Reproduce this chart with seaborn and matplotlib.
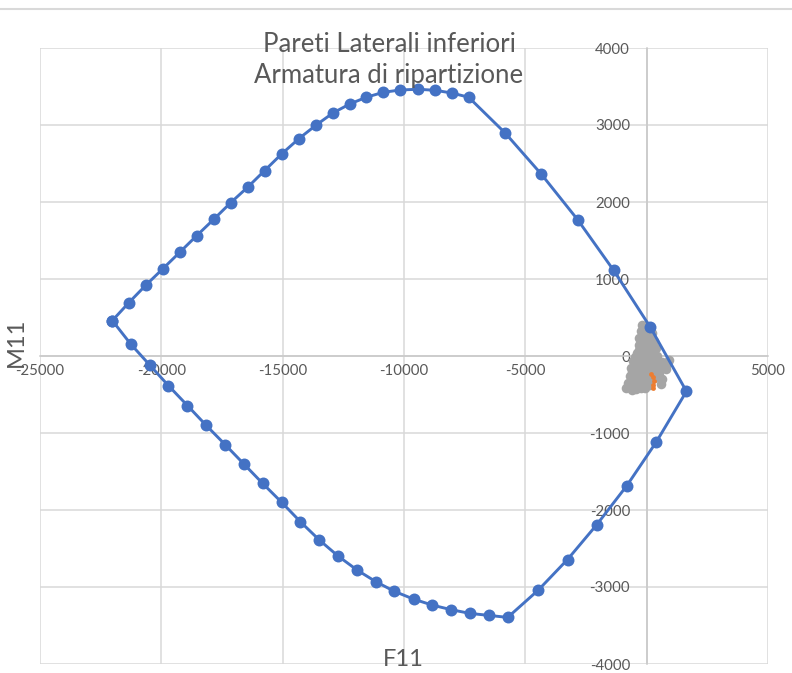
import matplotlib
matplotlib.use("Agg")
import matplotlib.pyplot as plt
from matplotlib.lines import Line2D
import seaborn as sns

# ---- data ----
dominio_F = [-22020, -21335, -20645, -19931, -19241, -18539, -17837, -17135, -16433, -15744,
             -15042, -14327, -13613, -12924, -12234, -11549, -10847, -10145, -9427, -8725,
             -8039, -7337, -5834, -4348, -2849, -1363, 153, 1639,
             400, -813, -2052, -3262, -4472, -5727, -6495, -7280, -8052, -8836, -9608,
             -10393, -11161, -11933, -12717, -13489, -14274, -15042, -15827, -16598,
             -17371, -18155, -18923, -19707, -20480, -21264, -22020]
dominio_M = [460, 694, 918, 1135, 1347, 1564, 1776, 1993, 2195, 2408,
             2624, 2824, 3001, 3157, 3273, 3361, 3425, 3455, 3464, 3451,
             3416, 3361, 2897, 2364, 1772, 1113, 373, -459,
             -1115, -1682, -2189, -2643, -3042, -3395, -3369, -3343, -3295, -3235, -3157,
             -3057, -2931, -2780, -2598, -2390, -2151, -1900, -1654, -1403,
             -1151, -900, -644, -385, -117, 156, 460]

sollecitazioni_F = [-200, 0, 150, -250, -50, 200, -300, -100, 100, 300, -320, -150, 50, 250, 380,
                    -400, -200, 0, 200, 420, -550, -350, -150, 50, 250, 450, 650, 900, 800,
                    -650, -450, -250, -50, 150, 350, 550, 780, -700, -500, -300, -100, 100,
                    300, 500, 650, 600, -780, -600, -400, -200, 0, 150, -850, -600, -450,
                    -250, -50, -100, 100, -300, -500, 300, -250, 0, 250, -400, 150, -600]
sollecitazioni_M = [400, 390, 370, 320, 300, 300, 230, 220, 210, 200, 140, 130, 120, 110, 100,
                    40, 30, 20, 10, 0, -60, -60, -70, -60, -50, -60, -80, -50, -120,
                    -160, -160, -170, -160, -170, -160, -180, -170, -260, -260, -270, -260, -270,
                    -280, -250, -300, -360, -350, -360, -360, -350, -360, -380, -420, -440, -430,
                    -410, -420, 350, 330, 80, -10, -110, -220, -220, -220, -310, -310, -210]

verifica_F = [190, 270, 290, 280, 275]
verifica_M = [-230, -270, -330, -380, -420]

x_ticks = [-25000, -20000, -15000, -10000, -5000, 0, 5000]
y_ticks = [-4000, -3000, -2000, -1000, 0, 1000, 2000, 3000, 4000]

title_lines = ["Pareti Laterali inferiori", "Armatura di ripartizione"]
x_title = "F11"
y_title = "M11"

# ---- style ----
sns.set_theme(style="white")
plt.rcParams["font.family"] = ["Lato", "DejaVu Sans"]

fig = plt.figure(figsize=(7.92, 6.73), dpi=100)
ax = fig.add_axes([40 / 792, 1 - 664 / 673, 728 / 792, 616 / 673])

grid_c = "#d9d9d9"
txt_c = "#595959"

sns.scatterplot(x=sollecitazioni_F, y=sollecitazioni_M, color="#A5A5A5", s=48,
                linewidth=0, ax=ax, zorder=3)
sns.scatterplot(x=verifica_F, y=verifica_M, color="#ED7D31", s=12,
                linewidth=0, ax=ax, zorder=4)
sns.lineplot(x=dominio_F, y=dominio_M, sort=False, estimator=None, color="#4472C4",
             linewidth=2.1, marker="o", markersize=8.6, markeredgewidth=0, ax=ax, zorder=5)

ax.set_xlim(-25000, 5000)
ax.set_ylim(-4000, 4000)
ax.set_xticks(x_ticks)
ax.set_yticks(y_ticks)
ax.set_xticklabels([str(v) for v in x_ticks])
ax.set_yticklabels([str(v) for v in y_ticks])
ax.set_xlabel("")
ax.set_ylabel("")

ax.grid(True, color=grid_c, linewidth=1.1)
ax.set_axisbelow(True)
for gl in ax.xaxis.get_gridlines() + ax.yaxis.get_gridlines():
    gl.set_clip_on(False)

for s in ["top", "right"]:
    ax.spines[s].set_visible(False)
ax.spines["left"].set_position(("data", 0))
ax.spines["bottom"].set_position(("data", 0))
for s in ["left", "bottom"]:
    ax.spines[s].set_color("#c8c8c8")
    ax.spines[s].set_linewidth(1.1)
    ax.spines[s].set_zorder(1)

ax.tick_params(axis="both", length=0, labelsize=10.8, labelcolor=txt_c)
ax.tick_params(axis="y", pad=12)
ax.tick_params(axis="x", pad=6)

fig.text(389 / 792, 1 - 44 / 673, title_lines[0], ha="center", va="center",
         fontsize=18.5, color=txt_c)
fig.text(389 / 792, 1 - 76 / 673, title_lines[1], ha="center", va="center",
         fontsize=18.5, color=txt_c)
fig.text(403 / 792, 1 - 660 / 673, x_title, ha="center", va="center",
         fontsize=17, color=txt_c)
fig.text(16.5 / 792, 1 - 342 / 673, y_title, ha="center", va="center",
         fontsize=17, color=txt_c, rotation=90)

fig.add_artist(Line2D([0, 1], [1 - 9 / 673, 1 - 9 / 673], color=grid_c, linewidth=1.5))

fig.savefig("out.png", dpi=100)
